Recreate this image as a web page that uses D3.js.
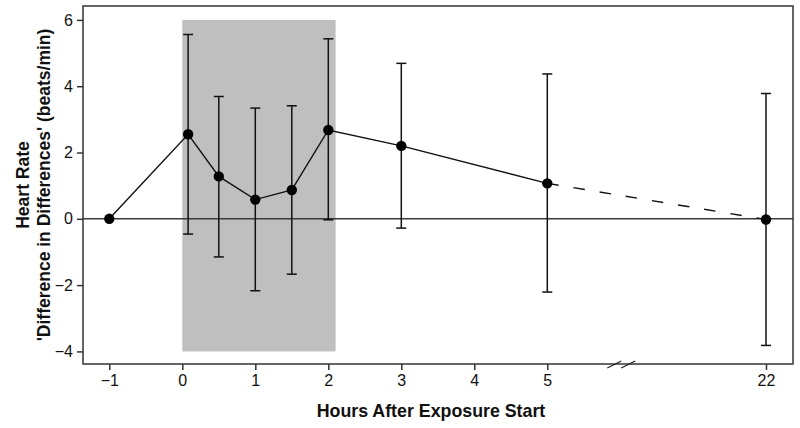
<!DOCTYPE html>
<html><head><meta charset="utf-8">
<script src="https://cdn.jsdelivr.net/npm/d3@7"></script>
<style>body{margin:0;background:#fff}svg{display:block}text{font-family:"Liberation Sans",Arial,sans-serif}</style>
</head><body><svg id="c" width="800" height="428"></svg>
<script>
const hours = [-1, 0.08, 0.5, 1, 1.5, 2, 3, 5, 22];
const means = [0, 2.55, 1.28, 0.58, 0.87, 2.68, 2.2, 1.07, -0.02];
const upper = [null, 5.56, 3.69, 3.34, 3.41, 5.43, 4.69, 4.37, 3.78];
const lower = [null, -0.46, -1.15, -2.17, -1.67, -0.03, -0.28, -2.21, -3.82];
const xTicks = [-1, 0, 1, 2, 3, 4, 5, 22];
const yTicks = [-4, -2, 0, 2, 4, 6];
const exposure = {start: 0, end: 2.1, low: -4, high: 6};

const svg = d3.select("#c");
const L = 83, R = 793, T = 6, B = 364;
const x = d3.scaleLinear().domain([-1, 5, 22]).range([109.3, 547.3, 766]);
const y = d3.scaleLinear().domain([-4.38, 6.42]).range([B, T]);
const xBreak = 10.75;

// exposure shading
svg.append("rect")
  .attr("x", x(exposure.start)).attr("y", y(exposure.high))
  .attr("width", x(exposure.end) - x(exposure.start))
  .attr("height", y(exposure.low) - y(exposure.high))
  .attr("fill", "#c0bfbf");

// zero line
svg.append("line").attr("x1", L).attr("x2", R).attr("y1", y(0)).attr("y2", y(0))
  .attr("stroke", "#3a3a3a").attr("stroke-width", 1.5);

// error bars
const idx = d3.range(hours.length).filter(i => upper[i] !== null);
const eb = svg.append("g").attr("stroke", "#111").attr("stroke-width", 1.5);
idx.forEach(i => {
  const cx = x(hours[i]);
  eb.append("line").attr("x1", cx).attr("x2", cx).attr("y1", y(upper[i])).attr("y2", y(lower[i]));
  eb.append("line").attr("x1", cx - 5).attr("x2", cx + 5).attr("y1", y(upper[i])).attr("y2", y(upper[i]));
  eb.append("line").attr("x1", cx - 5).attr("x2", cx + 5).attr("y1", y(lower[i])).attr("y2", y(lower[i]));
});

// lines
const pts = hours.map((h, i) => [x(h), y(means[i])]);
const line = d3.line();
svg.append("path").attr("d", line(pts.slice(0, 8))).attr("fill", "none")
  .attr("stroke", "#111").attr("stroke-width", 1.4);
svg.append("path").attr("d", line(pts.slice(7))).attr("fill", "none")
  .attr("stroke", "#111").attr("stroke-width", 1.4).attr("stroke-dasharray", "11.5,15");

// points
svg.append("g").selectAll("circle").data(pts).join("circle")
  .attr("cx", d => d[0]).attr("cy", d => d[1]).attr("r", 5.2).attr("fill", "#000");

// frame
svg.append("rect").attr("x", L).attr("y", T).attr("width", R - L).attr("height", B - T)
  .attr("fill", "none").attr("stroke", "#333").attr("stroke-width", 1.5);

// axes
const fmt = d => d < 0 ? "\u2212" + Math.abs(d) : d;
const gx = svg.append("g").attr("transform", `translate(0,${B})`)
  .call(d3.axisBottom(x).tickValues(xTicks).tickSize(6).tickPadding(5).tickFormat(fmt));
gx.select(".domain").remove();
gx.selectAll("line").attr("stroke", "#333").attr("stroke-width", 1.5);
gx.selectAll("text").attr("font-size", 16).attr("fill", "#111");

const gy = svg.append("g").attr("transform", `translate(${L},0)`)
  .call(d3.axisLeft(y).tickValues(yTicks).tickSize(6).tickPadding(4).tickFormat(fmt));
gy.select(".domain").remove();
gy.selectAll("line").attr("stroke", "#333").attr("stroke-width", 1.5);
gy.selectAll("text").attr("font-size", 16).attr("fill", "#111");

// axis break marks
const bx = x(xBreak);
[-7, 7].forEach(o => {
  svg.append("line").attr("x1", bx + o - 7).attr("y1", B + 4).attr("x2", bx + o + 7).attr("y2", B - 3)
    .attr("stroke", "#222").attr("stroke-width", 1.3);
});

// titles
svg.append("text").attr("x", 431).attr("y", 417).attr("text-anchor", "middle")
  .attr("font-size", 17.8).attr("font-weight", "bold").attr("fill", "#111")
  .text("Hours After Exposure Start");
const ty = svg.append("text").attr("transform", `translate(0,${(T + B) / 2}) rotate(-90)`)
  .attr("text-anchor", "middle").attr("font-size", 17.5).attr("font-weight", "bold").attr("fill", "#111");
ty.append("tspan").attr("x", 0).attr("y", 29).text("Heart Rate");
ty.append("tspan").attr("x", 0).attr("y", 50).text("'Difference in Differences' (beats/min)");
</script></body></html>
